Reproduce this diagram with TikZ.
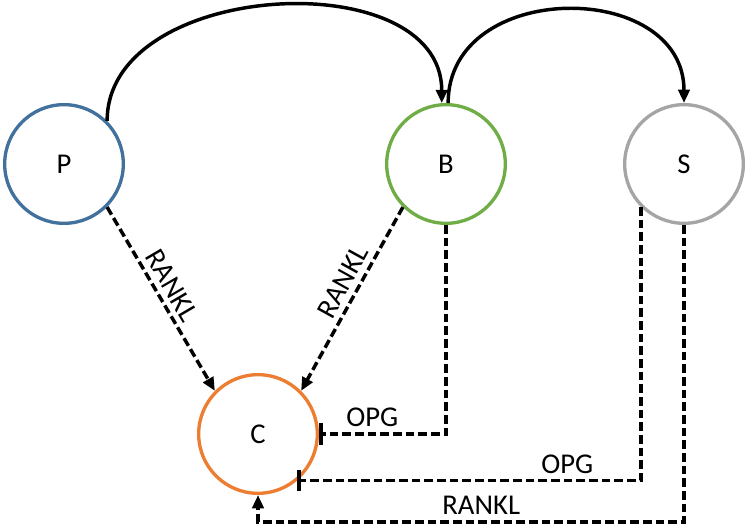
\documentclass[tikz,border=0pt]{standalone}
\usepackage{fontspec}
\setmainfont{Carlito}
\usepackage{tikz}
\usetikzlibrary{arrows.meta}
\definecolor{cellblue}{RGB}{65,113,156}
\definecolor{cellgreen}{RGB}{112,173,71}
\definecolor{cellgray}{RGB}{165,165,165}
\definecolor{cellorange}{RGB}{237,125,49}
\tikzstyle{cell} = [circle, minimum size=89pt, inner sep=0pt, line width=2.5pt, font=\fontsize{21.5}{25}\selectfont]
\tikzstyle{arrow} = [line width=2.6pt, -{Triangle[length=10pt,width=8.5pt]}]
\tikzstyle{dasharrow} = [arrow, dash pattern=on 6.5pt off 3pt]
\tikzstyle{blockarrow} = [line width=2.6pt, dash pattern=on 6.5pt off 3pt, -{Bar[width=16pt,line width=2.8pt]}]
\tikzstyle{lbl} = [font=\fontsize{21.5}{25}\selectfont, inner sep=2pt]

\begin{document}
\begin{tikzpicture}[x=0.75pt, y=0.75pt]
\useasboundingbox (0,0) rectangle (749,527);
\node (P) [cell, draw=cellblue] at (64,363) {P};
\node (B) [cell, draw=cellgreen] at (446,363) {B};
\node (S) [cell, draw=cellgray] at (684,363) {S};
\node (C) [cell, draw=cellorange] at (258,93) {C};
\coordinate (low) at (0,5);

\draw[arrow] (P.north east) to[out=90, in=90, looseness=1.08] (B.94);
\draw[arrow] (B.88) to[out=90, in=90, looseness=1.35] (S.north);
\draw[dasharrow] (P.south east) -- node[lbl, sloped, above=2pt, pos=0.47] {RANKL} (C.north west);
\draw[dasharrow] (B.south west) -- node[lbl, sloped, above=2pt, pos=0.45] {RANKL} (C.north east);
\draw[blockarrow] (B.south) |- node[lbl, above=2pt, pos=0.79] {OPG} (C.east);
\draw[blockarrow] (S.south west) |- node[lbl, above=2pt, pos=0.607] {OPG} (C.-50);
\draw[dasharrow] (S.south) -- (S.south |- low) -| node[lbl, above=2pt, pos=0.238] {RANKL} (C.south);
\end{tikzpicture}
\end{document}
